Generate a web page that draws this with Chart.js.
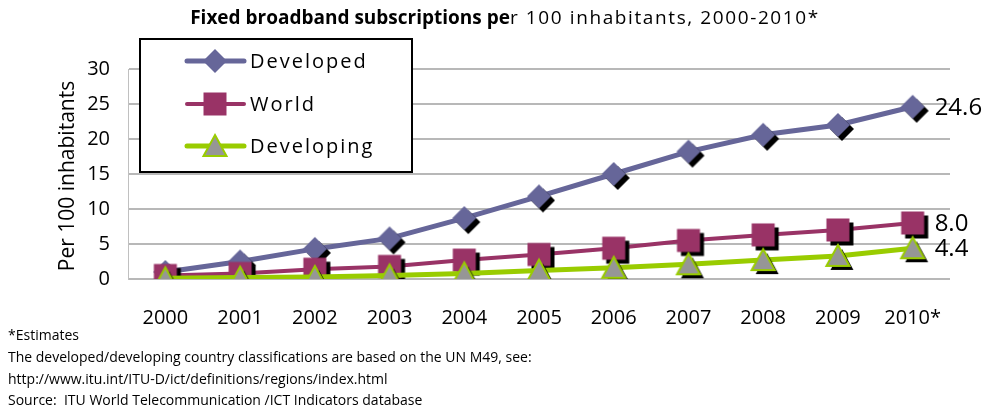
<!DOCTYPE html>
<html>
<head>
<meta charset="utf-8">
<script src="https://cdn.jsdelivr.net/npm/chart.js@4"></script>
<style>
    html, body { margin: 0; padding: 0; background: #fff; }
    #wrap { position: relative; width: 987px; height: 407px; overflow: hidden; }
    #chart { position: absolute; left: 0; top: 0; }
    .title { position: absolute; top: 4px; left: 0; width: 1010px; text-align: center;
        font-family: 'Open Sans', sans-serif; font-size: 19px; color: #000; white-space: nowrap; }
    .title b { font-weight: 700; }
    .title span { letter-spacing: 1.6px; }
    .note { position: absolute; left: 8px; font-family: 'Open Sans', sans-serif; font-size: 14px;
        color: #000; white-space: nowrap; }
</style>
</head>
<body>
<div id="wrap">
    <canvas id="chart" width="987" height="407"></canvas>
    <div class="title"><b>Fixed broadband subscriptions pe</b><span>r 100 inhabitants, 2000-2010*</span></div>
    <div class="note" style="top:325px">*Estimates</div>
    <div class="note" style="top:347px">The developed/developing country classifications are based on the UN M49, see:</div>
    <div class="note" style="top:369px">http://www.itu.int/ITU-D/ict/definitions/regions/index.html</div>
    <div class="note" style="top:390px">Source:&nbsp; ITU World Telecommunication /ICT Indicators database</div>
</div>
<script>
// values
const years = ['2000', '2001', '2002', '2003', '2004', '2005', '2006', '2007', '2008', '2009', '2010*'];
const developed = [1.0, 2.5, 4.3, 5.8, 8.7, 11.8, 15.0, 18.2, 20.6, 22.0, 24.6];
const world = [0.5, 0.8, 1.4, 1.8, 2.7, 3.5, 4.4, 5.5, 6.3, 7.0, 8.0];
const developing = [0.1, 0.2, 0.3, 0.5, 0.8, 1.2, 1.6, 2.1, 2.7, 3.3, 4.4];
const seriesNames = ['Developed', 'World', 'Developing'];
const yTicks = [0, 5, 10, 15, 20, 25, 30];

const FONT = "'Open Sans', sans-serif";

// marker images, drop shadow down-right like the original
function makeMarker(shape, fill, stroke, shadow) {
    const size = 36, c = size / 2;
    const cv = document.createElement('canvas');
    cv.width = size; cv.height = size;
    const ctx = cv.getContext('2d');
    function path(dx, dy) {
        ctx.beginPath();
        if (shape === 'diamond') {
            ctx.moveTo(c + dx, c - 12 + dy);
            ctx.lineTo(c + 12 + dx, c + dy);
            ctx.lineTo(c + dx, c + 12 + dy);
            ctx.lineTo(c - 12 + dx, c + dy);
        } else if (shape === 'square') {
            ctx.rect(c - 11.5 + dx, c - 11.5 + dy, 23, 23);
        } else {
            ctx.moveTo(c + dx, c - 11 + dy);
            ctx.lineTo(c + 11.5 + dx, c + 10 + dy);
            ctx.lineTo(c - 11.5 + dx, c + 10 + dy);
        }
        ctx.closePath();
    }
    if (shadow) {
        path(4, 4);
        ctx.fillStyle = '#000';
        ctx.fill();
    }
    path(0, 0);
    ctx.fillStyle = fill;
    ctx.fill();
    if (stroke) {
        ctx.lineWidth = 2;
        ctx.strokeStyle = stroke;
        ctx.stroke();
    }
    return cv;
}

const styles = [
    { color: '#666699', width: 5, shape: 'diamond', fill: '#666699', stroke: null },
    { color: '#993366', width: 4, shape: 'square', fill: '#993366', stroke: null },
    { color: '#99cc00', width: 5, shape: 'triangle', fill: '#969696', stroke: '#99cc00' }
];
const markers = styles.map(s => makeMarker(s.shape, s.fill, s.stroke, true));
const legendMarkers = styles.map(s => makeMarker(s.shape, s.fill, s.stroke, false));

// boxed legend with line + marker samples
const legendBox = {
    id: 'legendBox',
    afterDraw(chart) {
        const ctx = chart.ctx;
        ctx.save();
        ctx.fillStyle = '#fff';
        ctx.fillRect(140, 39, 272, 133);
        ctx.lineWidth = 2;
        ctx.strokeStyle = '#000';
        ctx.strokeRect(140, 39, 272, 133);
        const rows = [61, 104, 146];
        ctx.font = '20px ' + FONT;
        ctx.letterSpacing = '2px';
        ctx.textBaseline = 'middle';
        ctx.fillStyle = '#000';
        chart.data.datasets.forEach((ds, i) => {
            const y = rows[i];
            ctx.beginPath();
            ctx.lineCap = 'round';
            ctx.lineWidth = styles[i].width;
            ctx.strokeStyle = styles[i].color;
            ctx.moveTo(187, y);
            ctx.lineTo(244, y);
            ctx.stroke();
            const m = legendMarkers[i];
            ctx.drawImage(m, 215 - m.width / 2, y - m.height / 2);
            ctx.fillText(ds.label, 250, y + 1);
        });
        ctx.restore();
    }
};

// value labels at the last point of each line + rotated y title
const extras = {
    id: 'extras',
    afterDatasetsDraw(chart) {
        const ctx = chart.ctx;
        ctx.save();
        ctx.font = '24px ' + FONT;
        ctx.fillStyle = '#000';
        ctx.textBaseline = 'middle';
        chart.data.datasets.forEach((ds, i) => {
            const meta = chart.getDatasetMeta(i);
            const last = meta.data[meta.data.length - 1];
            ctx.fillText(ds.data[ds.data.length - 1].toFixed(1), last.x + 22, last.y + 1);
        });
        ctx.translate(68, 176);
        ctx.rotate(-Math.PI / 2);
        ctx.textAlign = 'center';
        ctx.font = '21px ' + FONT;
        ctx.fillText('Per 100 inhabitants', 0, 0);
        ctx.restore();
    }
};

const seriesData = [developed, world, developing];

new Chart(document.getElementById('chart'), {
    type: 'line',
    data: {
        labels: years,
        datasets: seriesData.map((d, i) => ({
            label: seriesNames[i],
            data: d,
            borderColor: styles[i].color,
            borderWidth: styles[i].width,
            pointStyle: markers[i],
            pointRadius: 12,
            pointHoverRadius: 12,
            tension: 0,
            order: 3 - i
        }))
    },
    options: {
        responsive: false,
        devicePixelRatio: 1,
        animation: false,
        events: [],
        layout: { padding: { top: 69, right: 37, left: 0, bottom: 0 } },
        scales: {
            x: {
                offset: true,
                grid: { display: false, drawTicks: false },
                border: { display: false },
                ticks: { font: { family: FONT, size: 20 }, color: '#000', padding: 27, maxRotation: 0, autoSkip: false },
                afterFit(scale) { scale.height = 128; }
            },
            y: {
                min: 0,
                max: 30,
                afterBuildTicks(scale) { scale.ticks = yTicks.map(v => ({ value: v })); },
                grid: { color: '#b8b8b8', lineWidth: 2, drawTicks: false },
                border: { display: true, color: '#c0c0c0', width: 1 },
                ticks: { font: { family: FONT, size: 20 }, color: '#000', padding: 18 },
                afterFit(scale) { scale.width = 128; }
            }
        },
        plugins: {
            legend: { display: false },
            tooltip: { enabled: false }
        }
    },
    plugins: [extras, legendBox]
});
</script>
</body>
</html>
